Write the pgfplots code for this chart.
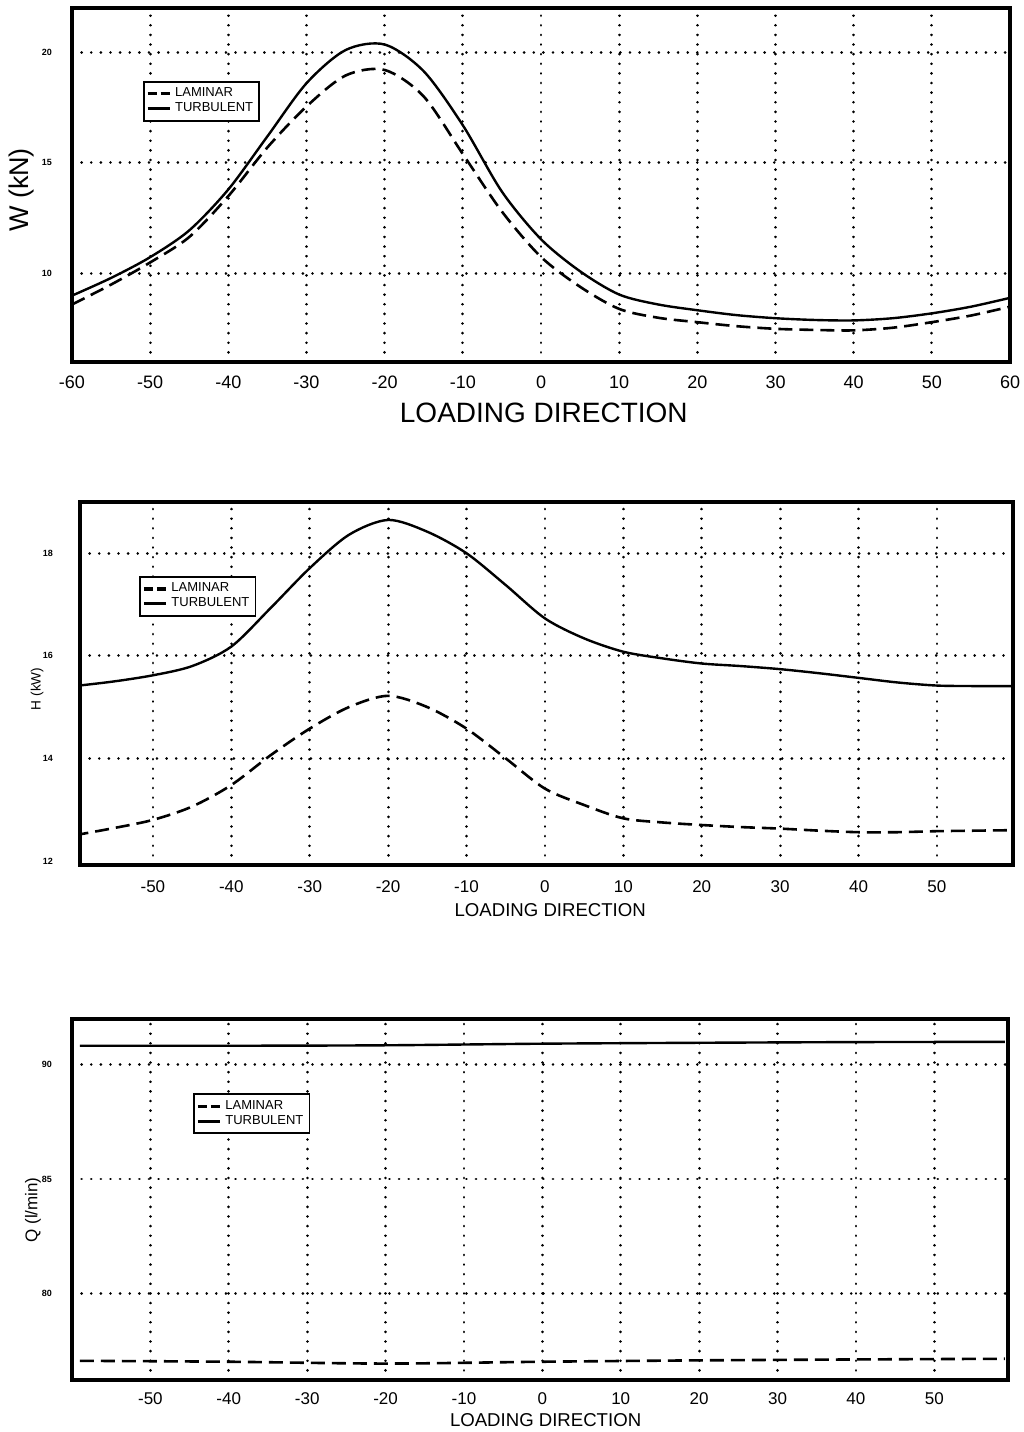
\documentclass[border=0pt]{standalone}
\usepackage{fontspec}
\setmainfont{Liberation Sans}
\usepackage{pgfplots}
\pgfplotsset{compat=1.18}

\pgfplotsset{
  panel/.style={
    scale only axis,
    xmajorgrids, ymajorgrids,
    grid style={black, line width=1.4pt, line cap=round, dash pattern=on 0.01pt off 4.8pt},
    axis line style={line width=1.6pt},
    major tick length=0pt,
    tick style={draw=none},
    yticklabel style={font=\fontsize{4.5}{5}\selectfont\bfseries},
    legend style={draw=black, line width=0.9pt, font=\fontsize{6.5}{6.5}\selectfont,
      inner sep=1pt, row sep=-2.5pt, anchor=north west, cells={anchor=west}},
    legend image code/.code={\draw[#1, line width=1.6pt] (0pt,0pt) -- (11pt,0pt);},
  },
  lam/.style={black, line width=1.3pt, dash pattern=on 7pt off 3.5pt, smooth,
    legend image post style={dash pattern=on 4.5pt off 2pt}},
  turb/.style={black, line width=1.2pt, smooth},
}

\begin{document}
\begin{tikzpicture}[x=1pt,y=1pt]
\useasboundingbox (0,0) rectangle (512,-716);

% W
\begin{axis}[panel, at={(36pt,-181pt)}, anchor=south west, width=469pt, height=177pt,
  xmin=-60, xmax=60, ymin=6, ymax=22,
  xtick={-60,-50,...,60},
  xticklabels={-60,-50,-40,-30,-20,-10,0,10,20,30,40,50,60},
  xticklabel style={font=\fontsize{9}{9}\selectfont, yshift=-3.3pt},
  ytick={10,15,20}, yticklabels={10,15,20},
  yticklabel style={xshift=-6.5pt},
  xlabel={LOADING DIRECTION},
  xlabel style={font=\fontsize{14}{14}\selectfont, at={(axis description cs:0.503,-0.144)}, anchor=center},
  ylabel={W (kN)},
  ylabel style={font=\fontsize{13.5}{13.5}\selectfont, at={(axis description cs:-0.0533,0.486)}, anchor=center},
  legend style={at={(0.0757,0.794)}},
]
\addplot[lam] coordinates {
  (-60,8.6) (-55,9.5) (-50,10.5) (-45,11.65) (-40,13.5) (-35,15.7) (-30,17.55)
  (-25,18.95) (-20,19.2) (-15,18.0) (-10,15.4) (-5,12.8) (0,10.75) (5,9.4)
  (10,8.4) (15,8.0) (20,7.8) (25,7.62) (30,7.5) (35,7.45) (40,7.43) (45,7.55)
  (50,7.8) (55,8.1) (60,8.5)
};
\addlegendentry{LAMINAR}
\addplot[turb] coordinates {
  (-60,9.0) (-55,9.8) (-50,10.74) (-45,11.95) (-40,13.8) (-35,16.2) (-30,18.6)
  (-25,20.1) (-20,20.35) (-15,19.14) (-10,16.7) (-5,13.7) (0,11.55) (5,10.1)
  (10,9.05) (15,8.6) (20,8.34) (25,8.12) (30,7.98) (35,7.9) (40,7.88) (45,7.98)
  (50,8.2) (55,8.5) (60,8.9)
};
\addlegendentry{TURBULENT}
\end{axis}

% H
\begin{axis}[panel, at={(40pt,-432.5pt)}, anchor=south west, width=466.5pt, height=181.5pt,
  xmin=-59.3, xmax=59.7, ymin=11.92, ymax=19.0,
  xtick={-50,-40,...,50},
  xticklabels={-50,-40,-30,-20,-10,0,10,20,30,40,50},
  xticklabel style={font=\fontsize{8.5}{8.5}\selectfont, yshift=-4.2pt},
  ytick={14,16,18}, yticklabels={14,16,18},
  extra y ticks={12}, extra y tick labels={12},
  extra y tick style={grid=none},
  yticklabel style={xshift=-10pt},
  xlabel={LOADING DIRECTION},
  xlabel style={font=\fontsize{9.3}{9.3}\selectfont, at={(axis description cs:0.504,-0.124)}, anchor=center},
  ylabel={H (kW)},
  ylabel style={font=\fontsize{6.8}{6.8}\selectfont, at={(axis description cs:-0.046,0.485)}, anchor=center},
  legend style={at={(0.0636,0.796)}},
]
\addplot[lam] coordinates {
  (-60,12.5) (-55,12.64) (-50,12.8) (-45,13.06) (-40,13.48) (-35,14.06) (-30,14.58)
  (-25,15.0) (-20,15.22) (-15,15.0) (-10,14.58) (-5,14.0) (0,13.41) (5,13.09)
  (10,12.83) (15,12.75) (20,12.7) (25,12.66) (30,12.63) (35,12.59) (40,12.56)
  (45,12.56) (50,12.58) (55,12.59) (60,12.6)
};
\addlegendentry{LAMINAR}
\addplot[turb] coordinates {
  (-60,15.41) (-55,15.5) (-50,15.62) (-45,15.8) (-40,16.18) (-35,16.93) (-30,17.71)
  (-25,18.36) (-20,18.65) (-15,18.42) (-10,18.0) (-5,17.38) (0,16.73) (5,16.34)
  (10,16.08) (15,15.95) (20,15.85) (25,15.8) (30,15.74) (35,15.66) (40,15.57)
  (45,15.48) (50,15.42) (55,15.41) (60,15.41)
};
\addlegendentry{TURBULENT}
\end{axis}

% Q
\begin{axis}[panel, at={(36pt,-690pt)}, anchor=south west, width=468pt, height=180.5pt,
  xmin=-60, xmax=59.4, ymin=76.2, ymax=92,
  xtick={-50,-40,...,50},
  xticklabels={-50,-40,-30,-20,-10,0,10,20,30,40,50},
  xticklabel style={font=\fontsize{8.5}{8.5}\selectfont, yshift=-2.7pt},
  ytick={80,85,90}, yticklabels={80,85,90},
  yticklabel style={xshift=-6.5pt},
  xlabel={LOADING DIRECTION},
  xlabel style={font=\fontsize{9.3}{9.3}\selectfont, at={(axis description cs:0.506,-0.111)}, anchor=center},
  ylabel={Q (l/min)},
  ylabel style={font=\fontsize{8.5}{8.5}\selectfont, at={(axis description cs:-0.0417,0.471)}, anchor=center},
  legend style={at={(0.1296,0.794)}},
]
\addplot[lam] coordinates {
  (-59,77.04) (-40,77.0) (-20,76.92) (0,77.0) (20,77.06) (40,77.1) (59,77.13)
};
\addlegendentry{LAMINAR}
\addplot[turb] coordinates {
  (-59,90.83) (-40,90.83) (-20,90.85) (0,90.92) (20,90.96) (40,90.99) (59,91.0)
};
\addlegendentry{TURBULENT}
\end{axis}
\end{tikzpicture}
\end{document}
